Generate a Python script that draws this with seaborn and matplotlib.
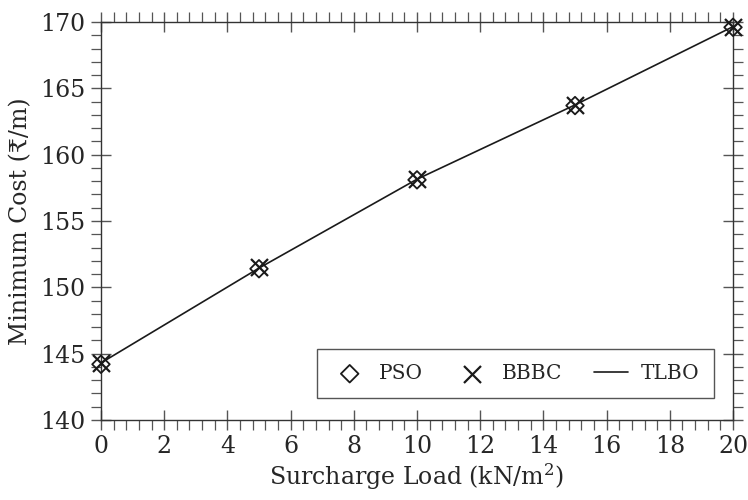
import matplotlib
matplotlib.use("Agg")
import matplotlib.pyplot as plt
import seaborn as sns
import pandas as pd
from matplotlib.ticker import MultipleLocator

load = [0, 5, 10, 15, 20]
pso = [144.2, 151.4, 158.1, 163.7, 169.6]
bbbc = [144.3, 151.5, 158.2, 163.75, 169.65]
tlbo = [144.3, 151.45, 158.15, 163.75, 169.65]

sns.set_style("ticks")
plt.rcParams['font.family'] = ['DejaVu Serif', 'DejaVu Sans']
plt.rcParams['mathtext.fontset'] = 'dejavuserif'

df = pd.DataFrame({"load": load, "PSO": pso, "BBBC": bbbc, "TLBO": tlbo})

fig = plt.figure(figsize=(7.48, 5.0), dpi=100)
ax = fig.add_axes([0.135, 0.16, 0.845, 0.796])

sns.lineplot(data=df, x="load", y="TLBO", ax=ax, color="#1a1a1a", lw=1.2, label="TLBO", zorder=2)
sns.scatterplot(data=df, x="load", y="PSO", ax=ax, marker="D", s=80, facecolor="none",
                edgecolor="#1a1a1a", linewidth=1.3, label="PSO", zorder=3, clip_on=False)
sns.scatterplot(data=df, x="load", y="BBBC", ax=ax, marker="x", s=150, color="#1a1a1a",
                linewidth=1.6, label="BBBC", zorder=4, clip_on=False)

ax.set_xlim(0, 20)
ax.set_ylim(140, 170)
ax.xaxis.set_major_locator(MultipleLocator(2))
ax.xaxis.set_minor_locator(MultipleLocator(0.4))
ax.yaxis.set_major_locator(MultipleLocator(5))
ax.yaxis.set_minor_locator(MultipleLocator(1))

for s in ax.spines.values():
    s.set_visible(True)
    s.set_color("#333333")
    s.set_linewidth(1.0)

ax.tick_params(which="major", direction="inout", length=14, width=1.0, color="#555555",
               top=True, right=True, labelsize=17, pad=4)
ax.tick_params(which="minor", direction="out", length=7, width=0.9, color="#555555",
               top=True, right=True)

ax.set_xlabel("Surcharge Load (kN/m$^2$)", fontsize=17, labelpad=2)
ax.set_ylabel("Minimum Cost (\u20b9/m)", fontsize=17, labelpad=6)

h, l = ax.get_legend_handles_labels()
order = [l.index("PSO"), l.index("BBBC"), l.index("TLBO")]
leg = ax.legend([h[i] for i in order], [l[i] for i in order], ncol=3, loc="lower right",
                bbox_to_anchor=(0.97, 0.055), borderaxespad=0, fontsize=14.5, frameon=True,
                fancybox=False, edgecolor="#555555", framealpha=1, columnspacing=1.6,
                handlelength=1.7, handletextpad=0.6, borderpad=0.75)
leg.get_frame().set_linewidth(1.0)

fig.savefig("out.png", dpi=100)
